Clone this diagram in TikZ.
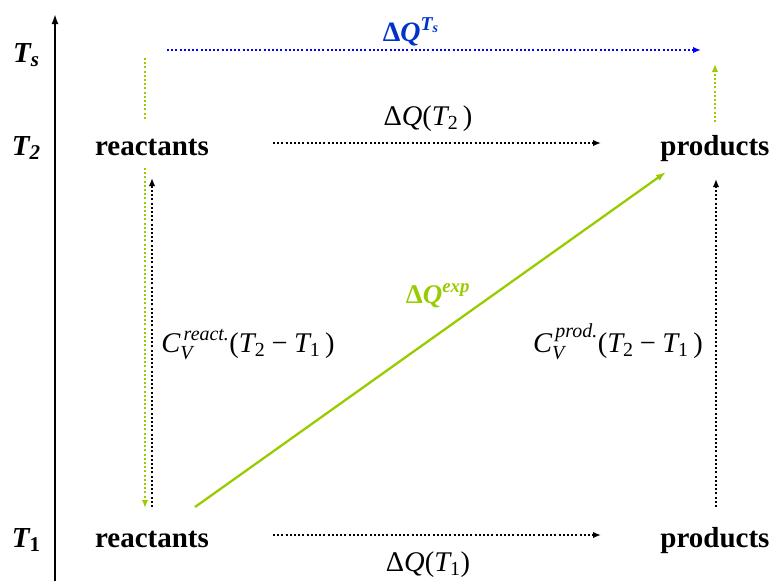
\documentclass[tikz,border=0pt]{standalone}
\usepackage{fix-cm}
\usepackage{amsmath}
\usepackage{fontspec}
\setmainfont{Liberation Serif}
\usetikzlibrary{arrows.meta}
\definecolor{grn}{RGB}{153,204,0}
\definecolor{bluline}{RGB}{0,0,255}
\definecolor{blulab}{RGB}{0,51,204}
\newcommand{\iv}[1]{\text{\itshape #1}}
\newcommand{\bv}[1]{\text{\bfseries\itshape #1}}
\newcommand{\rv}[1]{\text{#1}}
\begin{document}
\begin{tikzpicture}[x=1pt,y=-1pt,
  lbl/.style={font=\fontsize{29}{32}\selectfont\bfseries, inner sep=0, anchor=base},
  tlab/.style={font=\fontsize{29}{30}\selectfont\bfseries\itshape, inner sep=0, anchor=base},
  eq/.style={font=\fontsize{28.5}{30}\selectfont, inner sep=0, anchor=base},
  dotline/.style={line width=2.1pt, dash pattern=on 2pt off 2.2pt},
  tip/.style={-{Latex[length=8pt,width=6.5pt]}},
  axis/.style={line width=1.8pt, -{Latex[length=10pt,width=7pt]}}
]
\useasboundingbox (0,0) rectangle (774,581);

% axis
\coordinate (ax0) at (55,581);
\coordinate (ax1) at (55,14);
\draw[axis] (ax0) -- (ax1);

% temperature labels
\node[tlab] (ts) at (26,62) {T\raisebox{-0.35ex}{\fontsize{21}{21}\selectfont s}};
\node[tlab] (t2) at (26,155) {T\raisebox{-0.35ex}{\fontsize{21}{21}\selectfont 2}};
\node[tlab] (t1) at (26,547) {T\raisebox{-0.35ex}{\fontsize{21}{21}\selectfont\upshape 1}};

% species
\node[lbl] (r2) at (152,155) {reactants};
\node[lbl] (p2) at (715,155) {products};
\node[lbl] (r1) at (152,547) {reactants};
\node[lbl] (p1) at (715,547) {products};

% endpoints
\coordinate (h2a) at (273,143);
\coordinate (h2b) at (601,143);
\coordinate (h1a) at (273,535);
\coordinate (h1b) at (601,535);
\coordinate (bla) at (167,50);
\coordinate (blb) at (701,50);
\coordinate (gla) at (145,58);
\coordinate (glb) at (145,119);
\coordinate (gra) at (715,122);
\coordinate (grb) at (715,64);
\coordinate (gda) at (145,168);
\coordinate (gdb) at (145,508);
\coordinate (bua) at (152,507);
\coordinate (bub) at (152,178);
\coordinate (pua) at (716,507);
\coordinate (pub) at (716,179);
\coordinate (dga) at (195,507);
\coordinate (dgb) at (666,172);

% horizontal black dotted arrows
\draw[dotline, tip] (h2a) -- (h2b);
\draw[dotline, tip] (h1a) -- (h1b);
% blue dotted arrow
\draw[dotline, tip, bluline] (bla) -- (blb);
% green dotted segments
\draw[dotline, grn] (gla) -- (glb);
\draw[dotline, tip, grn] (gra) -- (grb);
\draw[dotline, tip, grn] (gda) -- (gdb);
% vertical black dotted arrows
\draw[dotline, tip] (bua) -- (bub);
\draw[dotline, tip] (pua) -- (pub);
% green diagonal
\draw[line width=2.3pt, grn, -{Latex[length=10pt,width=7pt]}] (dga) -- (dgb);

% labels
\node[eq] (lq2) at (428,125) {$\rv{Δ}\iv{Q}\rv{(}\iv{T}_{\rv{2}}\,\rv{)}$};
\node[eq] (lq1) at (428,571) {$\rv{Δ}\iv{Q}\rv{(}\iv{T}_{\rv{1}}\rv{)}$};
\node[eq, text=blulab, font=\fontsize{28}{30}\selectfont\bfseries] (lqs) at (411,41) {$\text{\bfseries Δ}\bv{Q}^{\bv{T}_{\bv{s}}}$};
\node[eq, text=grn, font=\fontsize{27}{30}\selectfont\bfseries] (lqe) at (438,303) {$\text{\bfseries Δ}\bv{Q}^{\bv{exp}}$};
\node[eq] (lcr) at (248,352) {$\iv{C}_{\iv{V}}^{\,\iv{react.}}\rv{(}\iv{T}_{\rv{2}}\mathbin{\rv{−}}\iv{T}_{\rv{1}}\,\rv{)}$};
\node[eq] (lcp) at (618,352) {$\iv{C}_{\iv{V}}^{\,\iv{prod.}}\rv{(}\iv{T}_{\rv{2}}\mathbin{\rv{−}}\iv{T}_{\rv{1}}\,\rv{)}$};
\end{tikzpicture}
\end{document}
